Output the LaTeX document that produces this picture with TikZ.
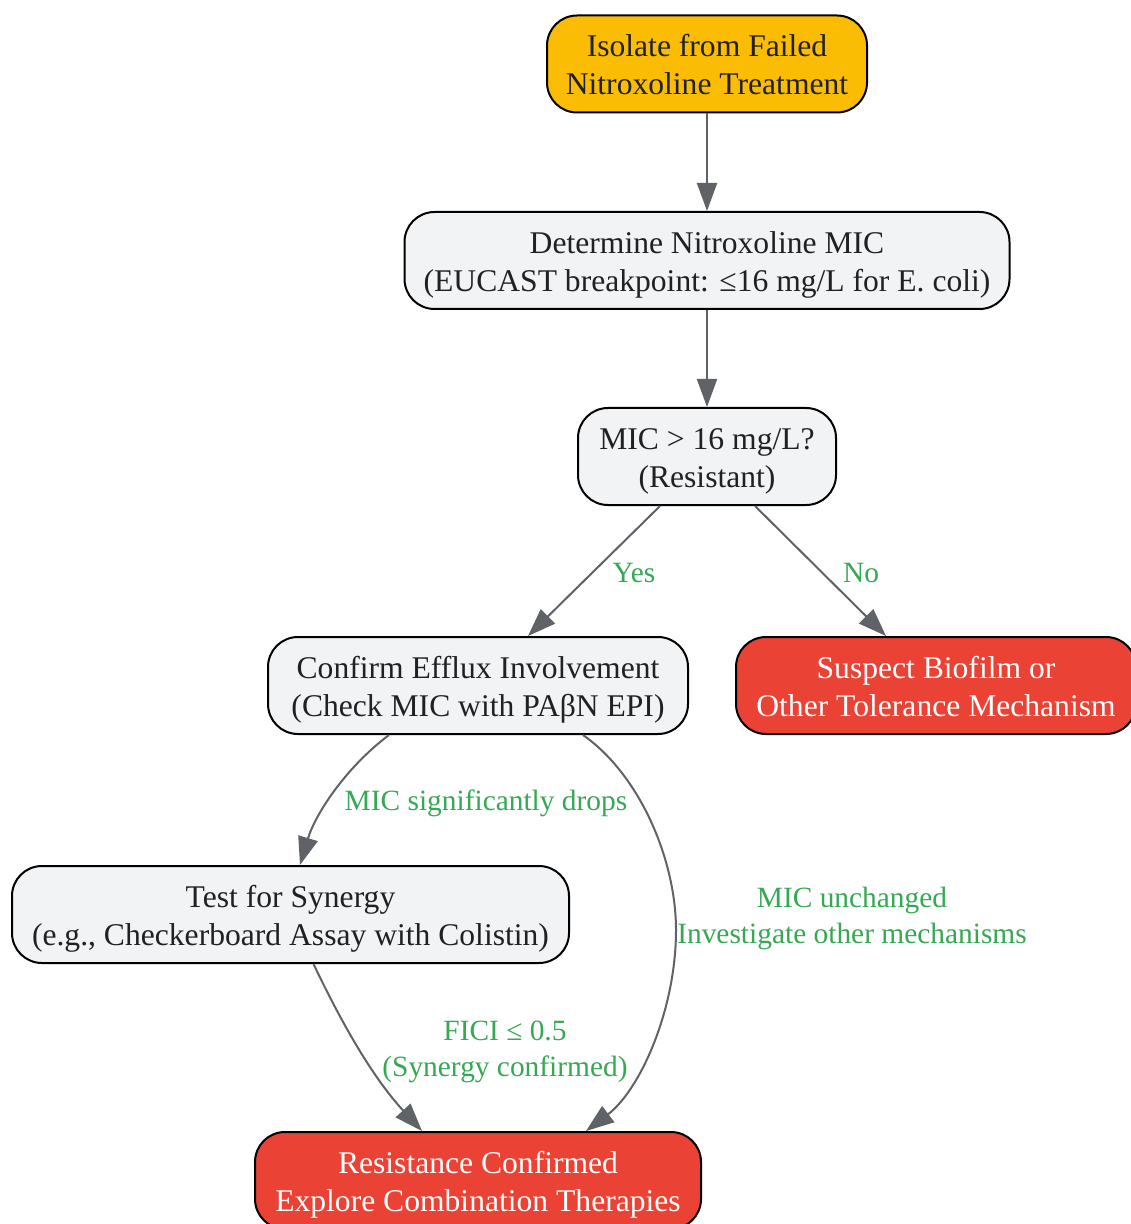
\documentclass[tikz,border=0pt]{standalone}
\usepackage{fontspec}
\setmainfont{Liberation Serif}
\usetikzlibrary{arrows.meta,calc}
\definecolor{orng}{HTML}{FBBC04}
\definecolor{lgray}{HTML}{F1F3F4}
\definecolor{redn}{HTML}{EA4335}
\definecolor{grn}{HTML}{34A853}
\definecolor{edg}{HTML}{5F6368}
\definecolor{txt}{HTML}{202124}
\newcommand{\twolines}[2]{\begin{tabular}{@{}c@{}}\rule{0pt}{17.5pt}#1\\#2\end{tabular}}
\tikzset{
  box/.style={draw=black, line width=1pt, rounded corners=15pt, align=center,
    minimum height=48.5pt, inner sep=0pt, font=\fontsize{15.8}{19}\selectfont, text=txt},
  graybox/.style={box, fill=lgray},
  orangebox/.style={box, fill=orng},
  redbox/.style={box, fill=redn, text=white},
  conn/.style={draw=edg, line width=1pt, -{Triangle[length=14pt,width=10pt]}},
  elabel/.style={text=grn, align=center, inner sep=0pt, font=\fontsize{14.7}{18}\selectfont}
}
\begin{document}
\begin{tikzpicture}[x=0.5pt,y=-0.5pt]
\useasboundingbox (0,0) rectangle (1130,1224);
\node[orangebox, minimum width=160pt] (n1) at (707,64) {\twolines{Isolate from Failed}{Nitroxoline Treatment}};
\node[graybox, minimum width=302.5pt] (n2) at (707,260.5) {\twolines{Determine Nitroxoline MIC}{(EUCAST breakpoint: ≤16 mg/L for E. coli)}};
\node[graybox, minimum width=129pt] (n3) at (707,456.5) {\twolines{MIC > 16 mg/L?}{(Resistant)}};
\node[graybox, minimum width=210pt] (n4) at (478,685.5) {\twolines{Confirm Efflux Involvement}{(Check MIC with PAβN EPI)}};
\node[redbox, minimum width=200pt] (n5) at (936,685.5) {\twolines{Suspect Biofilm or}{Other Tolerance Mechanism}};
\node[graybox, minimum width=278.5pt] (n6) at (290.5,914.5) {\twolines{Test for Synergy}{(e.g., Checkerboard Assay with Colistin)}};
\node[redbox, minimum width=223pt] (n7) at (478,1180.5) {\twolines{Resistance Confirmed}{Explore Combination Therapies}};

\draw[conn] (n1) -- (n2);
\draw[conn] (n2) -- (n3);
\draw[conn] ($(n3.south)+(-47,0)$) -- ($(n4.north)+(50,0)$);
\draw[conn] ($(n3.south)+(48,0)$) -- ($(n5.north)+(-50,0)$);
\draw[conn] ($(n4.south)+(-89,0)$) .. controls (345,768) and (315,815) .. ($(n6.north)+(9.5,0)$);
\draw[conn] ($(n4.south)+(105,0)$) .. controls (640,775) and (676,860) .. (676,930) .. controls (676,1010) and (640,1090) .. ($(n7.north)+(108,0)$);
\draw[conn] ($(n6.south)+(23,0)$) .. controls (345,1030) and (375,1080) .. ($(n7.north)+(-56,0)$);

\node[elabel] (l1) at (634,573) {Yes};
\node[elabel] (l2) at (861,573) {No};
\node[elabel] (l3) at (486,803) {MIC significantly drops};
\node[elabel] (l4) at (852,918) {MIC unchanged\\Investigate other mechanisms};
\node[elabel] (l5) at (505,1052) {FICI ≤ 0.5\\(Synergy confirmed)};
\end{tikzpicture}
\end{document}
